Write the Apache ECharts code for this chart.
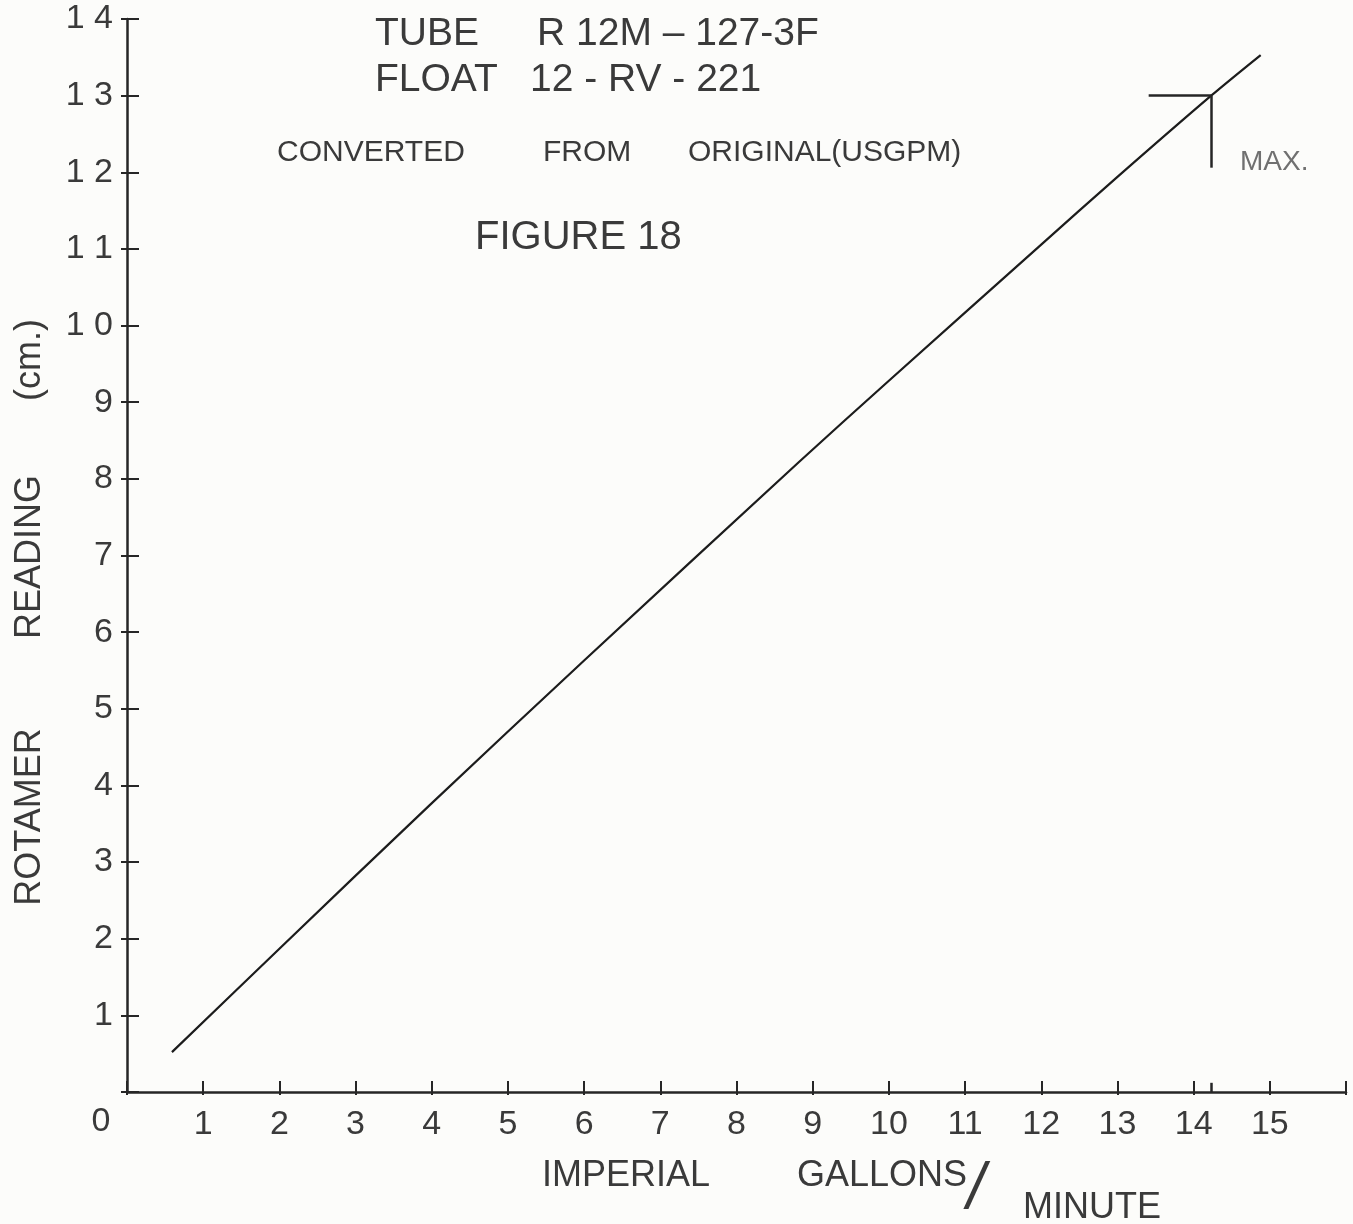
<!DOCTYPE html>
<html>
<head>
<meta charset="utf-8">
<script src="https://cdn.jsdelivr.net/npm/echarts@6/dist/echarts.min.js"></script>
<style>
  html, body { margin: 0; padding: 0; background: #fcfcfa; }
  #chart { width: 1353px; height: 1224px; }
</style>
</head>
<body>
<div id="chart"></div>
<script>
// Rotameter calibration curve: float reading against imperial gallons per minute
const flowGpm   = [0.59, 2.0, 3.97, 6.0, 8.82, 10.0, 11.97, 13.0, 14.23, 14.88];
const readingCm = [0.52, 1.87, 3.74, 5.63, 8.22, 9.28, 11.03, 11.94, 13.0, 13.53];

// MAX marker: corner on the curve, with a horizontal and a vertical arm
const maxFlow = 14.23;
const maxReading = 13;
const maxArmStartFlow = 13.41;
const maxArmEndReading = 12.06;
const maxTickTop = 0.12;

const xRange = [0, 16];
const yRange = [0, 14];
const tickStep = 1;

const INK = '#262626';
const TEXT = '#3a3a3a';
const FONT = '"Liberation Sans", Arial, sans-serif';

const chart = echarts.init(document.getElementById('chart'), null, { renderer: 'canvas' });

function text(str, x, y, size, extra) {
  const o = extra || {};
  return {
    type: 'text',
    x: x, y: y,
    rotation: o.rotation || 0,
    silent: true,
    style: {
      text: str,
      fill: o.fill || TEXT,
      font: (o.italic ? 'italic ' : '') + size + 'px ' + FONT,
      textAlign: o.align || 'left',
      textVerticalAlign: 'middle'
    }
  };
}

const tickLabelStyle = { fontSize: 34, color: TEXT, fontFamily: FONT };

const option = {
  backgroundColor: '#fcfcfa',
  animation: false,
  grid: { left: 127, right: 7, top: 19, bottom: 132, containLabel: false },
  xAxis: [
    {
      type: 'value', position: 'bottom',
      min: xRange[0], max: xRange[1], interval: tickStep,
      axisLine: { show: true, lineStyle: { color: INK, width: 2.5 } },
      axisTick: { show: true, inside: true, length: 11, lineStyle: { color: INK, width: 2 } },
      axisLabel: Object.assign({ margin: 16,
        formatter: v => (v === xRange[0] || v === xRange[1]) ? '' : String(v) }, tickLabelStyle),
      splitLine: { show: false }
    },
    {
      type: 'value', position: 'bottom',
      min: xRange[0], max: xRange[1], interval: tickStep,
      axisLine: { show: false },
      axisTick: { show: true, inside: false, length: 3, lineStyle: { color: INK, width: 2 } },
      axisLabel: { show: false },
      splitLine: { show: false }
    }
  ],
  yAxis: [
    {
      type: 'value', position: 'left',
      min: yRange[0], max: yRange[1], interval: tickStep,
      axisLine: { show: true, lineStyle: { color: INK, width: 2.5 } },
      axisTick: { show: true, inside: true, length: 12, lineStyle: { color: INK, width: 2 } },
      axisLabel: Object.assign({ margin: 14,
        formatter: v => v === yRange[0] ? '' : String(v).split('').join(' ') }, tickLabelStyle),
      splitLine: { show: false }
    },
    {
      type: 'value', position: 'left',
      min: yRange[0], max: yRange[1], interval: tickStep,
      axisLine: { show: false },
      axisTick: { show: true, inside: false, length: 6, lineStyle: { color: INK, width: 2 } },
      axisLabel: { show: false },
      splitLine: { show: false }
    }
  ],
  series: [
    {
      type: 'line',
      xAxisIndex: 0, yAxisIndex: 0,
      data: flowGpm.map((x, i) => [x, readingCm[i]]),
      showSymbol: false,
      smooth: 0.3,
      lineStyle: { color: '#1c1c1c', width: 2.2 },
      markLine: {
        silent: true,
        symbol: ['none', 'none'],
        label: { show: false },
        lineStyle: { color: INK, width: 2.5, type: 'solid' },
        data: [
          [{ coord: [maxArmStartFlow, maxReading] }, { coord: [maxFlow, maxReading] }],
          [{ coord: [maxFlow, maxReading] }, { coord: [maxFlow, maxArmEndReading] }],
          [{ coord: [maxFlow, 0] }, { coord: [maxFlow, maxTickTop] }]
        ]
      }
    }
  ],
  graphic: [
    // heading block
    text('TUBE', 375, 34, 39),
    text('R 12M \u2013 127-3F', 537, 34, 39),
    text('FLOAT', 375, 80, 39),
    text('12 - RV - 221', 530, 80, 39),
    text('CONVERTED', 277, 153, 30),
    text('FROM', 543, 153, 30),
    text('ORIGINAL(USGPM)', 688, 153, 30),
    text('FIGURE 18', 475, 238, 40),
    // marker caption
    text('MAX.', 1240, 162, 28, { fill: '#707070' }),
    // origin
    text('0', 101, 1122, 34, { align: 'center' }),
    // x axis title
    text('IMPERIAL', 626, 1176, 36, { align: 'center' }),
    text('GALLONS', 882, 1176, 36, { align: 'center' }),
    text('/', 976, 1190, 64, { align: 'center', italic: true }),
    text('MINUTE', 1092, 1208, 36, { align: 'center' }),
    // y axis title, read bottom to top
    text('ROTAMER', 30, 817, 36, { align: 'center', rotation: Math.PI / 2 }),
    text('READING', 30, 557, 36, { align: 'center', rotation: Math.PI / 2 }),
    text('(cm.)', 30, 360, 36, { align: 'center', rotation: Math.PI / 2 })
  ]
};

chart.setOption(option);
</script>
</body>
</html>
